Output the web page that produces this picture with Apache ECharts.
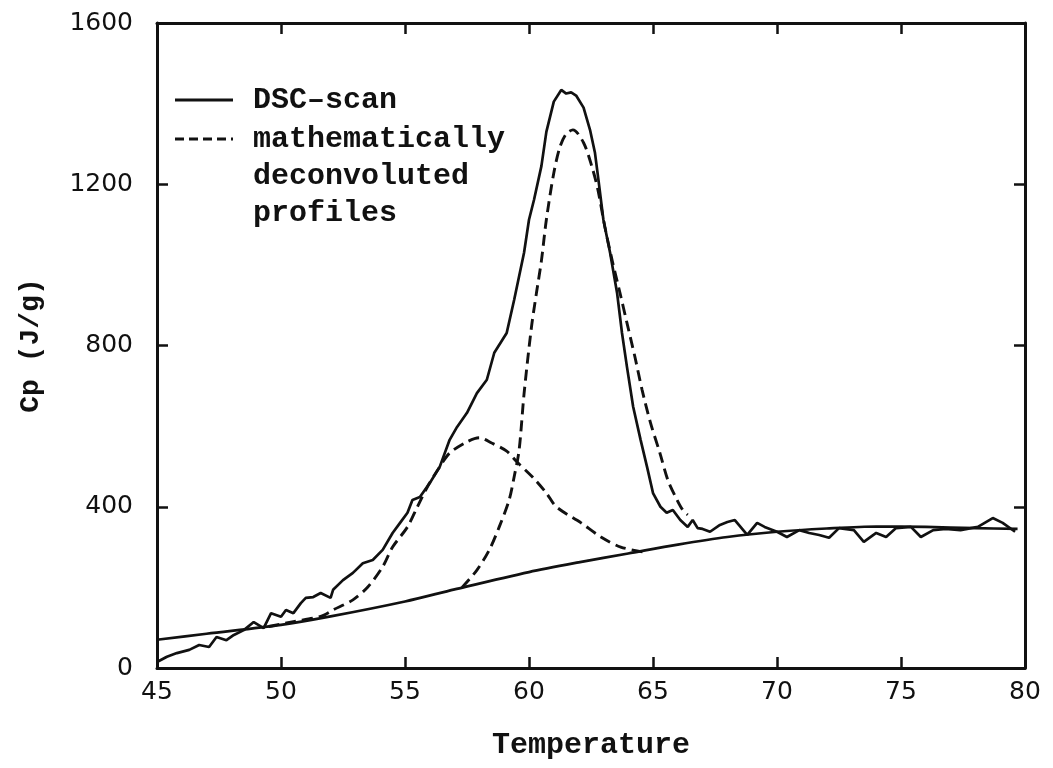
<!DOCTYPE html>
<html>
<head>
<meta charset="utf-8">
<script src="https://cdn.jsdelivr.net/npm/echarts@6/dist/echarts.min.js"></script>
<style>html,body{margin:0;padding:0;background:#fff;}#chart{width:1053px;height:768px;}</style>
</head>
<body>
<div id="chart"></div>
<script>
// ---- data ----
const dscTemp = [45.0,45.4,45.8,46.3,46.7,47.1,47.4,47.8,48.1,48.5,48.9,49.3,49.6,50.0,50.2,50.5,50.8,51.0,51.3,51.6,52.0,52.1,52.5,52.9,53.3,53.7,54.1,54.5,54.8,55.1,55.3,55.6,56.0,56.4,56.8,57.1,57.5,57.9,58.3,58.6,59.1,59.4,59.8,60.0,60.2,60.5,60.7,61.0,61.3,61.5,61.7,61.9,62.2,62.46,62.66,62.8,63.0,63.27,63.55,63.75,63.95,64.2,64.5,64.76,65.0,65.3,65.55,65.8,66.1,66.4,66.6,66.8,67.0,67.3,67.7,68.0,68.3,68.8,69.2,69.5,70.0,70.4,70.9,71.3,71.7,72.1,72.5,73.1,73.5,74.0,74.4,74.8,75.4,75.8,76.3,76.8,77.4,78.1,78.7,79.1,79.6];
const dscCp   = [15,28,37,45,57,52,77,69,82,94,114,99,136,127,144,136,161,174,176,186,174,194,218,236,260,268,293,335,360,385,417,424,459,499,566,598,633,682,715,782,831,913,1030,1112,1161,1245,1330,1405,1434,1425,1428,1420,1390,1335,1278,1211,1112,1030,931,831,747,648,566,499,434,400,385,392,367,350,367,347,345,338,355,362,367,330,360,350,338,325,342,335,330,323,347,342,313,335,325,347,350,325,342,345,342,350,372,360,338];

const baseTemp = [45,47,50,52,55,57,60,62,64,66,68,70,72,74,76,78,79.7];
const baseCp   = [70,85,107,128,165,195,238,262,284,306,325,338,346,351,350,347,345];

const peak1Temp = [49.5,50.5,51.6,52.1,52.9,53.5,54.1,54.5,55.1,55.5,55.9,56.4,56.8,57.5,58.0,58.5,59.1,59.5,60.2,60.7,61.1,62.1,62.9,63.7,64.6];
const peak1Cp   = [103,115,128,144,169,201,251,300,350,400,449,499,533,561,571,558,538,512,470,434,400,360,325,300,288];

const peak2Temp = [57.3,57.9,58.4,58.8,59.2,59.4,59.6,59.8,60.1,60.3,60.5,60.7,61.0,61.25,61.5,61.77,62.2,62.54,62.78,63.06,63.35,63.67,63.95,64.27,64.56,64.9,65.28,65.6,65.97,66.2,66.4];
const peak2Cp   = [200,243,293,350,417,474,540,680,846,930,1010,1112,1228,1293,1325,1335,1303,1243,1186,1094,1012,930,856,772,690,608,533,466,417,392,380];

const xTicks = [45,50,55,60,65,70,75,80];
const yTicks = [0,400,800,1200,1600];
const legendNames = ['DSC\u2013scan', 'mathematically\ndeconvoluted\nprofiles'];
const xName = 'Temperature';
const yName = 'Cp (J/g)';

const zip = (a, b) => a.map((v, i) => [v, b[i]]);

const ink = '#111';
const serifFont = '"Liberation Mono", "DejaVu Sans Mono", monospace';
const numFont = '"DejaVu Sans", sans-serif';

const chart = echarts.init(document.getElementById('chart'), null, {renderer: 'canvas'});

const axisCommon = {
  axisLine: {show: true, onZero: false, lineStyle: {color: ink, width: 3}},
  axisTick: {show: true, inside: true, length: 11, lineStyle: {color: ink, width: 2.5}},
  splitLine: {show: false}
};

const solid = {color: ink, width: 2.7, type: 'solid'};
const dashed = {color: ink, width: 2.9, type: [11, 6]};

chart.setOption({
  backgroundColor: '#fff',
  animation: false,
  grid: {left: 157, right: 28, top: 23, bottom: 100, containLabel: false},
  xAxis: [
    Object.assign({}, axisCommon, {
      type: 'value', min: xTicks[0], max: xTicks[xTicks.length - 1], interval: 5, position: 'bottom',
      name: xName, nameLocation: 'middle', nameGap: 62,
      nameTextStyle: {fontFamily: serifFont, fontWeight: 'bold', fontSize: 30, color: ink},
      axisLabel: {show: true, margin: 12, fontFamily: numFont, fontSize: 25, color: ink,
        formatter: v => xTicks.includes(v) ? String(v) : ''}
    }),
    Object.assign({}, axisCommon, {
      type: 'value', min: xTicks[0], max: xTicks[xTicks.length - 1], interval: 5, position: 'top',
      axisLabel: {show: false}
    })
  ],
  yAxis: [
    Object.assign({}, axisCommon, {
      type: 'value', min: yTicks[0], max: yTicks[yTicks.length - 1], interval: 400, position: 'left',
      name: yName, nameLocation: 'middle', nameGap: 112, nameRotate: 90,
      nameTextStyle: {fontFamily: serifFont, fontWeight: 'bold', fontSize: 28, color: ink},
      axisLabel: {show: true, margin: 24, fontFamily: numFont, fontSize: 25, color: ink,
        formatter: v => yTicks.includes(v) ? String(v) : ''}
    }),
    Object.assign({}, axisCommon, {
      type: 'value', min: yTicks[0], max: yTicks[yTicks.length - 1], interval: 400, position: 'right',
      axisLabel: {show: false}
    })
  ],
  series: [
    {name: 'DSC-scan', type: 'line', data: zip(dscTemp, dscCp), showSymbol: false, lineStyle: solid, z: 5},
    {name: 'baseline', type: 'line', data: zip(baseTemp, baseCp), showSymbol: false, smooth: 0.3, lineStyle: solid, z: 4},
    {name: 'profile 1', type: 'line', data: zip(peak1Temp, peak1Cp), showSymbol: false, smooth: 0.3, lineStyle: dashed, z: 3},
    {name: 'profile 2', type: 'line', data: zip(peak2Temp, peak2Cp), showSymbol: false, smooth: 0.3, lineStyle: dashed, z: 3}
  ],
  graphic: [
    {type: 'line', shape: {x1: 175, y1: 100, x2: 233, y2: 100}, style: {stroke: ink, lineWidth: 3}},
    {type: 'text', x: 253, y: 100, style: {text: legendNames[0], font: 'bold 30px ' + serifFont, fill: ink, verticalAlign: 'middle'}},
    {type: 'line', shape: {x1: 175, y1: 139, x2: 233, y2: 139}, style: {stroke: ink, lineWidth: 3, lineDash: [9, 5]}},
    {type: 'text', x: 253, y: 121, style: {text: legendNames[1], font: 'bold 30px ' + serifFont, fill: ink, lineHeight: 37, verticalAlign: 'top'}}
  ]
});
</script>
</body>
</html>
